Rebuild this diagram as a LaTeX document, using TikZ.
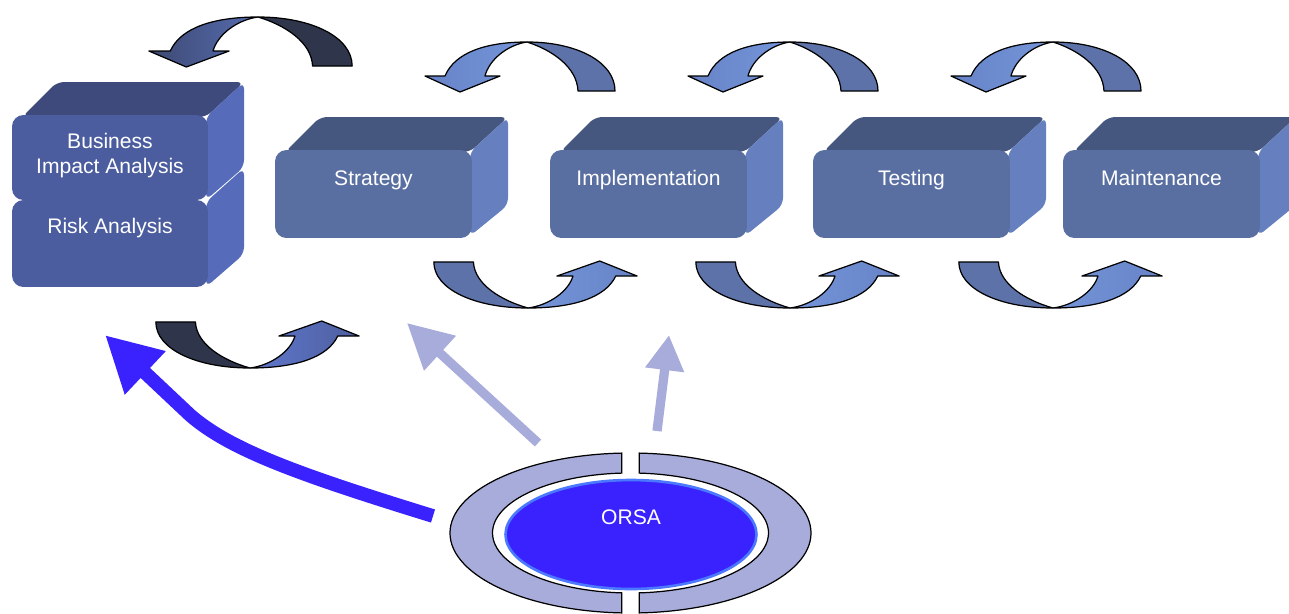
\documentclass[tikz,border=0pt]{standalone}
\usepackage{fontspec}
\setmainfont{Liberation Sans}
\usepackage{xcolor}
\usetikzlibrary{positioning,arrows.meta,shapes.geometric}

\definecolor{biafront}{HTML}{4B5C9F}
\definecolor{biatop}{HTML}{3E4A7C}
\definecolor{biaside}{HTML}{566BB9}
\definecolor{stfront}{HTML}{5A6FA1}
\definecolor{sttop}{HTML}{45577F}
\definecolor{stside}{HTML}{6680BF}
\definecolor{arrtail}{HTML}{5D72A8}
\definecolor{arrheadA}{HTML}{6683C6}
\definecolor{arrheadB}{HTML}{7595DA}
\definecolor{darktail}{HTML}{2F364B}
\definecolor{darkheadA}{HTML}{3D4972}
\definecolor{darkheadB}{HTML}{566CB0}
\definecolor{darkheadC}{HTML}{4E5FA0}
\definecolor{darkheadD}{HTML}{6078CC}
\definecolor{orsablue}{HTML}{3A22FF}
\definecolor{orsarim}{HTML}{4A78FF}
\definecolor{ringlav}{HTML}{A8ACDA}

\begin{document}
\begin{tikzpicture}[
  x=0.02cm, y=-0.02cm,
  font=\fontsize{12pt}{14.2pt}\selectfont,
  lbl/.style={text=white, inner sep=0pt, anchor=base},
  stagefront/.style={rounded corners=6.5pt, minimum width=3.94cm, minimum height=1.76cm, inner sep=0pt},
  sideface/.style={rounded corners=4pt},
  ribbon/.style={draw=black, line width=0.7pt, line join=round},
  ringpart/.style={fill=ringlav, draw=black, line width=0.7pt},
  bigarrow/.style={line width=7.8pt, draw=orsablue, -{Triangle[length=31.5pt, width=31.7pt]}},
  palearrow/.style={line width=5.3pt, draw=ringlav}
]
\useasboundingbox (0,0) rectangle (1289,613);

% Left stack
\fill[biaside, sideface] (206,202) -- (244,168) -- (244,254) -- (206,287) -- cycle;
\fill[biatop, sideface] (22,117) -- (57,82) -- (244,82) -- (206,117) -- cycle;
\fill[biaside, sideface] (206,117) -- (244,82) -- (244,167) -- (206,200) -- cycle;
\node[stagefront, fill=biafront, minimum width=3.92cm, minimum height=1.70cm] (bia) at (110,157.5) {};
\node[stagefront, fill=biafront, minimum width=3.92cm, minimum height=1.74cm] (risk) at (110,243.5) {};
\node[lbl, anchor=north, align=center] (bia-lbl) at (110,132.5) {Business\\Impact Analysis};
\node[lbl] (risk-lbl) at (110,233) {Risk Analysis};

% Stages
\foreach \x/\nm/\txt in {275/strat/Strategy, 550/impl/Implementation, 813/test/Testing, 1063/maint/Maintenance}{
  \fill[sttop, sideface] (\x+10,152) -- (\x+45,117) -- (\x+233,117) -- (\x+195,152) -- cycle;
  \fill[stside, sideface] (\x+195,152) -- (\x+233,117) -- (\x+233,205) -- (\x+195,236) -- cycle;
  \node[stagefront, fill=stfront] (\nm) at (\x+98.5,194) {};
  \node[lbl] (\nm-lbl) at (\x+98.5,185) {\txt};
}

% Circular arrows
\foreach \px/\py/\xs/\ys/\tcol/\hl/\hr in {
  258/17/1.07/1/darktail/darkheadA/darkheadB,
  527/42/1/1/arrtail/arrheadA/arrheadB,
  790/42/1/1/arrtail/arrheadA/arrheadB,
  1053/42/1/1/arrtail/arrheadA/arrheadB,
  250/368/-1.07/-0.94/darktail/darkheadD/darkheadC,
  528/308/-1.07/-0.94/arrtail/arrheadB/arrheadA,
  790/308/-1.07/-0.94/arrtail/arrheadB/arrheadA,
  1053/308/-1.07/-0.94/arrtail/arrheadB/arrheadA}{
  \begin{scope}[shift={(\px,\py)}, xscale=\xs, yscale=\ys]
    \path[ribbon, left color=\hl, right color=\hr] (0,0) .. controls (-40,0) and (-72,10) .. (-82,34)
      -- (-102,34) -- (-67,50) -- (-27,34) -- (-42,34) .. controls (-38,18) and (-20,3) .. (0,0) -- cycle;
    \path[ribbon, fill=\tcol] (0,0) .. controls (50,0) and (88,20) .. (88,49)
      -- (51,49) .. controls (50,25) and (25,8) .. (0,0) -- cycle;
  \end{scope}
}

% ORSA
\path[ringpart] (621.7,612.9) arc[start angle=92.79, end angle=267.21, x radius=180.5, y radius=80]
  -- (621.7,473.1) arc[start angle=266.34, end angle=93.66, x radius=138, y radius=60] -- cycle;
\path[ringpart] (639.3,612.9) arc[start angle=87.21, end angle=-87.21, x radius=180.5, y radius=80]
  -- (639.3,473.1) arc[start angle=-86.34, end angle=86.34, x radius=138, y radius=60] -- cycle;
\node[ellipse, fill=orsablue, draw=orsarim, line width=1.5pt, minimum width=5.02cm, minimum height=2.18cm, inner sep=0pt] (orsa) at (631,534.5) {};
\node[lbl] (orsa-lbl) at (631,524) {ORSA};

% Links from ORSA
\coordinate (orsa-w) at (433,516);
\coordinate (bia-in) at (105,335);
\coordinate (orsa-nw) at (538,443);
\coordinate (strat-in) at (407,323);
\coordinate (orsa-n) at (657,431);
\coordinate (impl-in) at (669,335);
\draw[bigarrow] (orsa-w) .. controls (300,475) and (230,450) .. (190,415) -- (bia-in);
\draw[palearrow, -{Triangle[length=25.5pt, width=25.5pt]}] (orsa-nw) -- (strat-in);
\draw[palearrow, -{Triangle[length=20pt, width=21pt]}] (orsa-n) -- (impl-in);
\end{tikzpicture}
\end{document}
